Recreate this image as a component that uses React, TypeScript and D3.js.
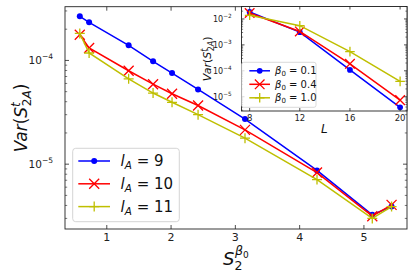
import React, { useRef, useEffect } from "react";
import * as d3 from "d3";

// main panel: variance vs S_2^{beta0}
const s2Values = [0.58, 0.725, 1.34, 1.72, 2.015, 2.42, 3.15, 4.27, 5.13, 5.43];
const varLA9 = [2.66e-4, 2.33e-4, 1.4e-4, 9.8e-5, 7.55e-5, 5.25e-5, 2.72e-5, 8.7e-6, 3.25e-6, 3.9e-6];
const varLA10 = [1.77e-4, 1.32e-4, 7.95e-5, 5.9e-5, 4.77e-5, 3.68e-5, 2.14e-5, 8.3e-6, 3.15e-6, 4.05e-6];
const varLA11 = [1.82e-4, 1.18e-4, 6.65e-5, 4.85e-5, 3.95e-5, 3.0e-5, 1.78e-5, 7.1e-6, 3.0e-6, 3.9e-6];
const mainLabels = ["9", "10", "11"];
const mainXTicks = [1, 2, 3, 4, 5];
const mainYTicks = [-5, -4];

// inset: variance vs L
const sizesL = [8, 12, 16, 20];
const varB01 = [1.86e-2, 3.1e-3, 1.08e-4, 3.9e-6];
const varB04 = [1.7e-2, 3.3e-3, 1.86e-4, 7.4e-6];
const varB10 = [1.38e-2, 5.5e-3, 5.5e-4, 3.9e-5];
const insetLabels = ["0.1", "0.4", "1.0"];
const insetXTicks = [8, 12, 16, 20];
const insetYTicks = [-5, -4, -3, -2];

const colors = ["#0000ff", "#ff0000", "#bfbf00"];
const markers = ["o", "x", "+"];
const FONT = "DejaVu Sans, sans-serif";

type Sel = d3.Selection<SVGGElement, unknown, null, undefined>;

function drawMarker(g: Sel, kind: string, x: number, y: number, color: string, s: number) {
  if (kind === "o") {
    g.append("circle").attr("cx", x).attr("cy", y).attr("r", s * 0.6).attr("fill", color);
  } else if (kind === "x") {
    g.append("path")
      .attr("d", `M${x - s},${y - s}L${x + s},${y + s}M${x - s},${y + s}L${x + s},${y - s}`)
      .attr("stroke", color).attr("stroke-width", 1.3).attr("fill", "none");
  } else {
    g.append("path")
      .attr("d", `M${x - s},${y}L${x + s},${y}M${x},${y - s}L${x},${y + s}`)
      .attr("stroke", color).attr("stroke-width", 1.3).attr("fill", "none");
  }
}

// log axis ticks (inward, all four sides) + labels on the left
function logTicks(g: Sel, y: d3.ScaleLogarithmic<number, number>, x0: number, x1: number,
  majors: number[], fs: number, major: number, minor: number) {
  const [lo, hi] = y.domain();
  for (let e = Math.floor(Math.log10(lo)); e <= Math.ceil(Math.log10(hi)); e++) {
    for (let m = 2; m <= 9; m++) {
      const v = m * Math.pow(10, e);
      if (v < lo || v > hi) continue;
      const py = y(v);
      g.append("line").attr("x1", x0).attr("x2", x0 + minor).attr("y1", py).attr("y2", py)
        .attr("stroke", "#222").attr("stroke-width", 0.6);
      g.append("line").attr("x1", x1).attr("x2", x1 - minor).attr("y1", py).attr("y2", py)
        .attr("stroke", "#222").attr("stroke-width", 0.6);
    }
  }
  majors.forEach(e => {
    const py = y(Math.pow(10, e));
    g.append("line").attr("x1", x0).attr("x2", x0 + major).attr("y1", py).attr("y2", py)
      .attr("stroke", "#222").attr("stroke-width", 0.8);
    g.append("line").attr("x1", x1).attr("x2", x1 - major).attr("y1", py).attr("y2", py)
      .attr("stroke", "#222").attr("stroke-width", 0.8);
    const t = g.append("text").attr("x", x0 - 3 - fs * 0.85).attr("y", py + fs * 0.35)
      .attr("text-anchor", "end").attr("font-size", fs).attr("font-family", FONT).attr("fill", "#222");
    t.append("tspan").text("10");
    t.append("tspan").attr("dy", -fs * 0.45).attr("font-size", fs * 0.72).text("\u2212" + Math.abs(e));
  });
}

function linTicks(g: Sel, x: d3.ScaleLinear<number, number>, y0: number, y1: number,
  ticks: number[], fs: number, len: number) {
  ticks.forEach(v => {
    const px = x(v);
    g.append("line").attr("x1", px).attr("x2", px).attr("y1", y0).attr("y2", y0 - len)
      .attr("stroke", "#222").attr("stroke-width", 0.8);
    g.append("line").attr("x1", px).attr("x2", px).attr("y1", y1).attr("y2", y1 + len)
      .attr("stroke", "#222").attr("stroke-width", 0.8);
    g.append("text").attr("x", px).attr("y", y0 + 3 + fs * 0.8).attr("text-anchor", "middle")
      .attr("font-size", fs).attr("font-family", FONT).attr("fill", "#222").text(v);
  });
}

const App = () => {
  const ref = useRef<SVGSVGElement>(null);

  useEffect(() => {
    if (!ref.current) return;
    const svg = d3.select(ref.current);
    svg.selectAll("*").remove();
    const root = svg.append("g") as unknown as Sel;

    // ---------- main axes ----------
    const M = { left: 65, right: 407, top: 6.7, bottom: 229 };
    const x = d3.scaleLinear().domain([0.35, 5.67]).range([M.left, M.right]);
    const y = d3.scaleLog().domain([Math.pow(10, -5.625), Math.pow(10, -3.482)]).range([M.bottom, M.top]);

    const series = [varLA9, varLA10, varLA11];
    const line = d3.line<[number, number]>().x(d => x(d[0])).y(d => y(d[1]));
    series.forEach((vals, i) => {
      const pts = s2Values.map((s, j) => [s, vals[j]] as [number, number]);
      root.append("path").attr("d", line(pts)).attr("fill", "none")
        .attr("stroke", colors[i]).attr("stroke-width", 1.5);
      pts.forEach(p => drawMarker(root, markers[i], x(p[0]), y(p[1]), colors[i], 5));
    });

    root.append("rect").attr("x", M.left).attr("y", M.top).attr("width", M.right - M.left)
      .attr("height", M.bottom - M.top).attr("fill", "none").attr("stroke", "#222").attr("stroke-width", 0.9);
    logTicks(root, y, M.left, M.right, mainYTicks, 10.5, 4, 2.2);
    linTicks(root, x, M.bottom, M.top, mainXTicks, 11, 4);

    // main legend
    const lg = root.append("g");
    lg.append("rect").attr("x", 72.7).attr("y", 148.3).attr("width", 106.6).attr("height", 73.4)
      .attr("rx", 3).attr("fill", "white").attr("fill-opacity", 0.8).attr("stroke", "#d0d0d0").attr("stroke-width", 0.9);
    mainLabels.forEach((lab, i) => {
      const ly = 161 + i * 22.8;
      lg.append("line").attr("x1", 78.3).attr("x2", 110).attr("y1", ly).attr("y2", ly)
        .attr("stroke", colors[i]).attr("stroke-width", 1.5);
      drawMarker(lg as unknown as Sel, markers[i], 94.2, ly, colors[i], 5);
      const t = lg.append("text").attr("x", 120.5).attr("y", ly + 5.3).attr("font-size", 15)
        .attr("font-family", FONT).attr("fill", "#111");
      t.append("tspan").attr("font-style", "italic").text("l");
      t.append("tspan").attr("font-style", "italic").attr("font-size", 10.5).attr("dy", 3).text("A");
      t.append("tspan").attr("dy", -3).text(" = " + lab);
    });

    // main axis labels
    const yl = root.append("text").attr("transform", "translate(27,118) rotate(-90)")
      .attr("text-anchor", "middle").attr("font-size", 17).attr("font-family", FONT).attr("fill", "#111");
    yl.append("tspan").attr("font-style", "italic").text("Var");
    yl.append("tspan").text("(");
    yl.append("tspan").attr("font-style", "italic").text("S");
    yl.append("tspan").attr("font-style", "italic").attr("font-size", 12).attr("dy", -7).text("t");
    yl.append("tspan").attr("font-size", 12).attr("dx", -4).attr("dy", 11).text("2");
    yl.append("tspan").attr("font-style", "italic").attr("font-size", 12).text("A");
    yl.append("tspan").attr("dy", -4).text(")");

    const xl = root.append("text").attr("x", 223).attr("y", 265).attr("font-size", 18)
      .attr("font-family", FONT).attr("fill", "#111");
    xl.append("tspan").attr("font-style", "italic").text("S");
    xl.append("tspan").attr("font-size", 12.5).attr("dy", 5).text("2");
    xl.append("tspan").attr("font-style", "italic").attr("font-size", 12.5).attr("dx", -7.5).attr("dy", -15).text("\u03b2");
    xl.append("tspan").attr("font-size", 9).attr("dy", 3).text("0");

    // ---------- inset ----------
    const I = { left: 241.5, right: 407, top: 6.5, bottom: 111 };
    const xi = d3.scaleLinear().domain([7.35, 20.55]).range([I.left, I.right]);
    const yi = d3.scaleLog().domain([Math.pow(10, -5.55), Math.pow(10, -1.52)]).range([I.bottom, I.top]);
    const ig = root.append("g") as unknown as Sel;
    ig.append("rect").attr("x", I.left).attr("y", I.top).attr("width", I.right - I.left)
      .attr("height", I.bottom - I.top).attr("fill", "white");

    const iSeries = [varB01, varB04, varB10];
    const iline = d3.line<[number, number]>().x(d => xi(d[0])).y(d => yi(d[1]));
    iSeries.forEach((vals, i) => {
      const pts = sizesL.map((l, j) => [l, vals[j]] as [number, number]);
      ig.append("path").attr("d", iline(pts)).attr("fill", "none")
        .attr("stroke", colors[i]).attr("stroke-width", 1.5);
      pts.forEach(p => drawMarker(ig, markers[i], xi(p[0]), yi(p[1]), colors[i], 4.8));
    });

    ig.append("rect").attr("x", I.left).attr("y", I.top).attr("width", I.right - I.left)
      .attr("height", I.bottom - I.top).attr("fill", "none").attr("stroke", "#222").attr("stroke-width", 0.9);
    logTicks(ig, yi, I.left, I.right, insetYTicks, 8, 3, 1.6);
    linTicks(ig, xi, I.bottom, I.top, insetXTicks, 8.5, 3);

    // inset legend
    ig.append("rect").attr("x", 241.7).attr("y", 62.3).attr("width", 74.3).attr("height", 45)
      .attr("rx", 2).attr("fill", "white").attr("fill-opacity", 0.8).attr("stroke", "#d0d0d0").attr("stroke-width", 0.8);
    insetLabels.forEach((lab, i) => {
      const ly = 70.8 + i * 13.5;
      ig.append("line").attr("x1", 249.3).attr("x2", 270).attr("y1", ly).attr("y2", ly)
        .attr("stroke", colors[i]).attr("stroke-width", 1.5);
      drawMarker(ig, markers[i], 259.7, ly, colors[i], 4.8);
      const t = ig.append("text").attr("x", 275).attr("y", ly + 3.6).attr("font-size", 10)
        .attr("font-family", FONT).attr("fill", "#111");
      t.append("tspan").attr("font-style", "italic").text("\u03b2");
      t.append("tspan").attr("font-size", 7).attr("dy", 2).text("0");
      t.append("tspan").attr("dy", -2).text(" = " + lab);
    });

    // inset axis labels
    const iyl = ig.append("text").attr("transform", `translate(211,${(I.top + I.bottom) / 2}) rotate(-90)`)
      .attr("text-anchor", "middle").attr("font-size", 11).attr("font-family", FONT).attr("fill", "#111");
    iyl.append("tspan").attr("font-style", "italic").text("Var");
    iyl.append("tspan").text("(");
    iyl.append("tspan").attr("font-style", "italic").text("S");
    iyl.append("tspan").attr("font-style", "italic").attr("font-size", 8).attr("dy", -4.5).text("t");
    iyl.append("tspan").attr("font-size", 8).attr("dx", -2.6).attr("dy", 7.5).text("2");
    iyl.append("tspan").attr("font-style", "italic").attr("font-size", 8).text("A");
    iyl.append("tspan").attr("dy", -3).text(")");

    ig.append("text").attr("x", (I.left + I.right) / 2).attr("y", 133).attr("text-anchor", "middle")
      .attr("font-size", 12).attr("font-style", "italic").attr("font-family", FONT).attr("fill", "#111").text("L");
  }, []);

  return (
    <svg ref={ref} width={415} height={280}
      style={{ position: "absolute", left: 0, top: 0, background: "white" }} />
  );
};

export default App;
